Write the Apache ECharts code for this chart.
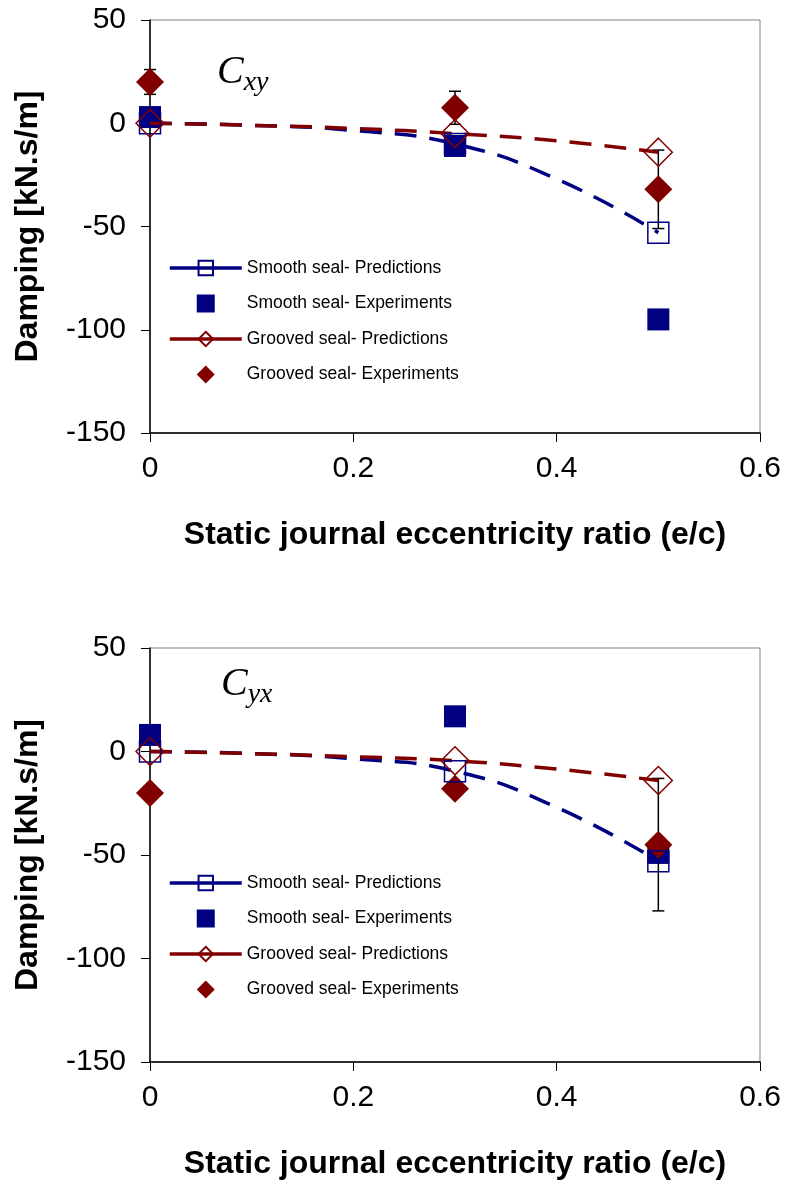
<!DOCTYPE html>
<html>
<head>
<meta charset="utf-8">
<script src="https://cdn.jsdelivr.net/npm/echarts@6/dist/echarts.min.js"></script>
<style>
  html, body { margin: 0; padding: 0; background: #fff; }
  #main { width: 785px; height: 1182px; }
</style>
</head>
<body>
<div id="main"></div>
<script>
// eccentricity values
const predX = [0, 0.1, 0.2, 0.3, 0.4, 0.5];
const expX = [0, 0.3, 0.5];
const xTicks = [0, 0.2, 0.4, 0.6];
const yTicks = [-150, -100, -50, 0, 50];

// Cxy (top)
const smoothPredXY = [0, -1, -3.5, -10, -27, -53];
const groovedPredXY = [0, -1, -2.5, -5, -8.5, -14];
const smoothExpXY = [3, -11, -95];
const groovedExpXY = [20, 7.5, -32];
const groovedErrXY = [6, 8, 19];

// Cyx (bottom)
const smoothPredYX = [0, -1, -3.5, -9.5, -27, -53];
const groovedPredYX = [0, -1, -2.5, -4.5, -8.5, -14];
const smoothExpYX = [8, 17, -49];
const groovedExpYX = [-20, -18, -45];
const groovedErrYX = [3, 3, 32];

const NAVY = '#000080';
const MAROON = '#800000';
const names = ['Smooth seal- Predictions', 'Smooth seal- Experiments',
               'Grooved seal- Predictions', 'Grooved seal- Experiments'];

// square / diamond as paths so the legend keeps them un-stretched
const SQUARE = 'path://M0,0L10,0L10,10L0,10Z';
const DIAMOND = 'path://M5,0L10,5L5,10L0,5Z';

const chart = echarts.init(document.getElementById('main'));

// line with markers only where experiments were taken
function predData(ys) {
  return predX.map((x, i) => {
    const item = { value: [x, ys[i]] };
    if (!expX.includes(x)) item.symbol = 'none';
    return item;
  });
}

function expData(ys) {
  return expX.map((x, i) => [x, ys[i]]);
}

function errData(ys, es) {
  return expX.map((x, i) => [x, ys[i] - es[i], ys[i] + es[i]]);
}

function errorBar(params, api) {
  const x = api.value(0);
  const lo = api.coord([x, api.value(1)]);
  const hi = api.coord([x, api.value(2)]);
  const cap = 6;
  const st = { stroke: '#000', lineWidth: 1.5 };
  return {
    type: 'group',
    children: [
      { type: 'line', shape: { x1: hi[0], y1: hi[1], x2: lo[0], y2: lo[1] }, style: st },
      { type: 'line', shape: { x1: hi[0] - cap, y1: hi[1], x2: hi[0] + cap, y2: hi[1] }, style: st },
      { type: 'line', shape: { x1: lo[0] - cap, y1: lo[1], x2: lo[0] + cap, y2: lo[1] }, style: st }
    ]
  };
}

function seriesFor(idx, sp, gp, se, ge, gerr) {
  return [
    {
      name: names[0], type: 'line', xAxisIndex: idx, yAxisIndex: idx,
      data: predData(sp), smooth: true, symbol: SQUARE, symbolSize: 21,
      lineStyle: { color: NAVY, width: 3.5, type: [22, 13] },
      itemStyle: { color: 'rgba(0,0,0,0)', borderColor: NAVY, borderWidth: 1.5 }
    },
    {
      name: names[1], type: 'scatter', xAxisIndex: idx, yAxisIndex: idx,
      data: expData(se), symbol: SQUARE, symbolSize: 22,
      itemStyle: { color: NAVY, opacity: 1 }
    },
    {
      name: names[2], type: 'line', xAxisIndex: idx, yAxisIndex: idx,
      data: predData(gp), smooth: true, symbol: DIAMOND, symbolSize: 28,
      lineStyle: { color: MAROON, width: 3.5, type: [22, 13] },
      itemStyle: { color: 'rgba(0,0,0,0)', borderColor: MAROON, borderWidth: 1.5 }
    },
    {
      name: 'err' + idx, type: 'custom', xAxisIndex: idx, yAxisIndex: idx,
      data: errData(ge, gerr), renderItem: errorBar,
      encode: { x: 0, y: [1, 2] }
    },
    {
      name: names[3], type: 'scatter', xAxisIndex: idx, yAxisIndex: idx,
      data: expData(ge), symbol: DIAMOND, symbolSize: 28,
      itemStyle: { color: MAROON, opacity: 1 }
    }
  ];
}

const sans = '"Liberation Sans Narrow", "Arial Narrow", "Liberation Sans", Arial, sans-serif';

function xAxisFor(idx) {
  return {
    type: 'value', gridIndex: idx, min: 0, max: 0.6, interval: 0.2,
    name: 'Static journal eccentricity ratio (e/c)',
    nameLocation: 'middle', nameGap: 86,
    nameTextStyle: { fontFamily: sans, fontWeight: 'bold', fontSize: 32, color: '#000' },
    axisLine: { show: true, onZero: false, lineStyle: { color: '#000', width: 1.5 } },
    axisTick: { show: true, length: 9, lineStyle: { color: '#000' } },
    axisLabel: { fontFamily: sans, fontSize: 30, color: '#000', margin: 21,
                 formatter: v => xTicks.includes(v) ? String(v) : '' },
    splitLine: { show: false }
  };
}

function yAxisFor(idx) {
  return {
    type: 'value', gridIndex: idx, min: -150, max: 50, interval: 50,
    name: 'Damping [kN.s/m]',
    nameLocation: 'middle', nameGap: 106,
    nameTextStyle: { fontFamily: sans, fontWeight: 'bold', fontSize: 32, color: '#000' },
    axisLine: { show: true, onZero: false, lineStyle: { color: '#000', width: 1.5 } },
    axisTick: { show: true, length: 9, lineStyle: { color: '#000' } },
    axisLabel: { fontFamily: sans, fontSize: 30, color: '#000', margin: 24,
                 formatter: v => yTicks.includes(v) ? String(v) : '' },
    splitLine: { show: false }
  };
}

function legendFor(top) {
  return {
    data: names, orient: 'vertical', left: 163, top: top,
    itemWidth: 72, itemHeight: 18, itemGap: 17.5,
    selectedMode: false,
    lineStyle: { type: 'solid', width: 3.5 },
    textStyle: { fontFamily: sans, fontSize: 17.5, color: '#000' }
  };
}

function label(text, left, top) {
  return {
    type: 'text', left: left, top: top,
    style: {
      text: '{c|C}{s|' + text + '}',
      rich: {
        c: { fontFamily: '"Liberation Serif", "Times New Roman", serif', fontStyle: 'italic', fontSize: 40, color: '#000' },
        s: { fontFamily: '"Liberation Serif", "Times New Roman", serif', fontStyle: 'italic', fontSize: 28, color: '#000', padding: [22, 0, 0, 0] }
      }
    }
  };
}

const option = {
  backgroundColor: '#fff',
  animation: false,
  grid: [
    { left: 150, top: 20, width: 610, height: 413, show: true, borderColor: '#808080', borderWidth: 1 },
    { left: 150, top: 648, width: 610, height: 414, show: true, borderColor: '#808080', borderWidth: 1 }
  ],
  xAxis: [xAxisFor(0), xAxisFor(1)],
  yAxis: [yAxisFor(0), yAxisFor(1)],
  legend: [legendFor(254), legendFor(869)],
  graphic: [label('xy', 217, 52), label('yx', 221, 664)],
  series: seriesFor(0, smoothPredXY, groovedPredXY, smoothExpXY, groovedExpXY, groovedErrXY)
    .concat(seriesFor(1, smoothPredYX, groovedPredYX, smoothExpYX, groovedExpYX, groovedErrYX))
};

chart.setOption(option);
</script>
</body>
</html>
